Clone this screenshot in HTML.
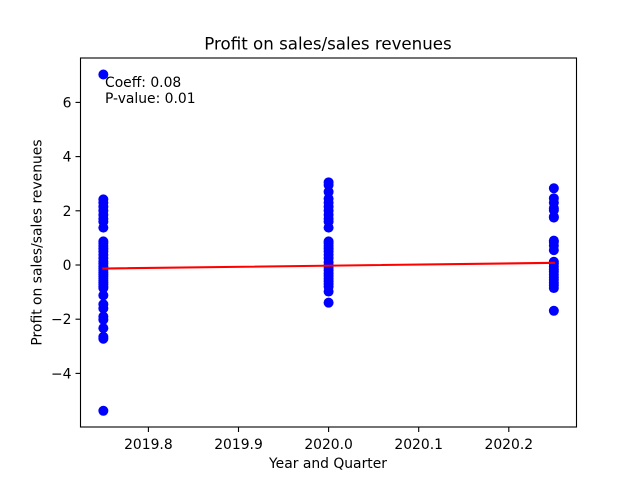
<!DOCTYPE html>
<html>
<head>
<meta charset="utf-8">
<title>Profit on sales/sales revenues</title>
<style>
html,body{margin:0;padding:0;background:#fff;}
svg{display:block;}
text{font-family:"DejaVu Sans",sans-serif;fill:#000;}
</style>
</head>
<body>
<svg id="chart" xmlns="http://www.w3.org/2000/svg" width="640" height="480" viewBox="0 0 640 480">
<rect x="0" y="0" width="640" height="480" fill="#fff"/>
<text x="328" y="49.5" font-size="16.67" text-anchor="middle">Profit on sales/sales revenues</text>
<g id="marks"></g>
<g id="axes"></g>
<text x="105" y="87" font-size="13.89">Coeff: 0.08</text>
<text x="105" y="103" font-size="13.89">P-value: 0.01</text>
<text x="328" y="468" font-size="13.89" text-anchor="middle">Year and Quarter</text>
<text transform="translate(41.5 242.5) rotate(-90)" font-size="13.89" text-anchor="middle">Profit on sales/sales revenues</text>
</svg>
<script>
var quarters = [2019.75, 2020.0, 2020.25];
var profitQ1 = [7.03, 2.42, 2.3, 2.15, 2.0, 1.85, 1.7, 1.6, 1.38, 0.87, 0.8, 0.7, 0.6, 0.5, 0.38, 0.25, 0.12, 0.05, -0.05, -0.12, -0.2, -0.28, -0.35, -0.42, -0.5, -0.58, -0.65, -0.72, -0.8, -0.85, -1.12, -1.45, -1.6, -1.9, -2.02, -2.33, -2.65, -2.72, -5.38];
var profitQ2 = [3.05, 2.95, 2.7, 2.45, 2.3, 2.15, 2.0, 1.85, 1.7, 1.6, 1.38, 0.87, 0.8, 0.7, 0.6, 0.5, 0.38, 0.25, 0.1, 0.0, -0.1, -0.2, -0.3, -0.4, -0.5, -0.6, -0.7, -0.8, -0.98, -1.39];
var profitQ3 = [2.83, 2.46, 2.3, 2.1, 2.02, 1.78, 1.75, 0.9, 0.85, 0.72, 0.55, 0.12, 0.05, -0.05, -0.15, -0.25, -0.35, -0.45, -0.55, -0.65, -0.75, -0.85, -1.69];
var fitX = [2019.75, 2020.25];
var fitY = [-0.13, 0.08];
var xTicks = [2019.8, 2019.9, 2020.0, 2020.1, 2020.2];
var yTicks = [-4, -2, 0, 2, 4, 6];

var NS = 'http://www.w3.org/2000/svg';
var plotLeft = 80.5, plotRight = 576.5, plotTop = 58, plotBottom = 427;
function xScale(v){ return 328.6 + (v - 2020) * 901; }
function yScale(v){ return 265 - v * 27.1; }
function make(tag, attrs, parent){
  var el = document.createElementNS(NS, tag);
  for (var k in attrs) el.setAttribute(k, attrs[k]);
  parent.appendChild(el);
  return el;
}
var marks = document.getElementById('marks');
var axes = document.getElementById('axes');

var seriesList = [profitQ1, profitQ2, profitQ3];
seriesList.forEach(function(vals, i){
  vals.forEach(function(v){
    var c = make('circle', {cx: xScale(quarters[i]), cy: yScale(v), r: 5.0, fill: '#0000ff'}, marks);
    
    
  });
});

var fit = make('line', {x1: xScale(fitX[0]), y1: yScale(fitY[0]), x2: xScale(fitX[1]), y2: yScale(fitY[1]), stroke: '#ff0000', 'stroke-width': 2.08, 'stroke-linecap': 'square'}, marks);



var frame = make('rect', {x: plotLeft, y: plotTop, width: plotRight - plotLeft, height: plotBottom - plotTop, fill: 'none', stroke: '#000', 'stroke-width': 1.1}, axes);



xTicks.forEach(function(v){
  var x = xScale(v);
  var t = make('line', {x1: x, y1: plotBottom, x2: x, y2: plotBottom + 5, stroke: '#000', 'stroke-width': 1.1}, axes);
  
  
  var l = make('text', {x: x, y: 449, 'font-size': 13.89, 'text-anchor': 'middle'}, axes);
  
  
  l.textContent = v.toFixed(1);
});

yTicks.forEach(function(v){
  var y = yScale(v);
  var t = make('line', {x1: plotLeft - 5, y1: y, x2: plotLeft, y2: y, stroke: '#000', 'stroke-width': 1.1}, axes);
  
  
  var l = make('text', {x: plotLeft - 9, y: y + 5, 'font-size': 13.89, 'text-anchor': 'end'}, axes);
  
  
  l.textContent = v < 0 ? '\u2212' + Math.abs(v) : String(v);
});
</script>
</body>
</html>
